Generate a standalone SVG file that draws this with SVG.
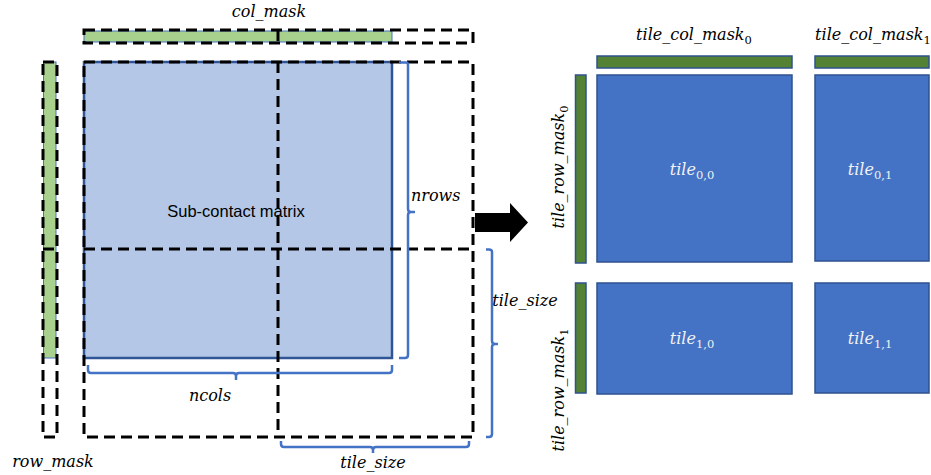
<svg xmlns="http://www.w3.org/2000/svg" width="931" height="475" viewBox="0 0 931 475">
  <style>
    .math { font-family: "DejaVu Serif", "Liberation Serif", serif; font-style: italic; font-size: 16px; fill: #000; }
    .math-w { font-family: "DejaVu Serif", "Liberation Serif", serif; font-style: italic; font-size: 16px; fill: #F2F2F2; }
    .sub { font-size: 11.5px; font-style: normal; }
    .dash { fill: none; stroke: #000; stroke-width: 3; stroke-dasharray: 11 6; }
    .mask-light { fill: #A9D18E; stroke: #4472C4; stroke-width: 1; }
    .brace { fill: none; stroke: #4472C4; stroke-width: 2.5; stroke-linejoin: round; }
    .mask-dark { fill: #548235; stroke: #2F528F; stroke-width: 1.5; }
    .tile { fill: #4472C4; stroke: #2F528F; stroke-width: 1.5; }
    .plain { font-family: "Liberation Sans", Arial, sans-serif; font-size: 16.5px; fill: #000; }
  </style>

  <!-- column mask above the sub-contact matrix -->
  <g id="col-mask">
    <rect class="mask-light" x="84" y="31" width="308" height="11"/>
    <rect class="dash" x="84" y="30" width="389" height="13"/>
    <line class="dash" x1="278" y1="30" x2="278" y2="43"/>
    <text class="math" x="269" y="17" text-anchor="middle">col_mask</text>
  </g>

  <!-- row mask left of the sub-contact matrix -->
  <g id="row-mask">
    <rect class="mask-light" x="43.5" y="62" width="12.5" height="296"/>
    <rect class="dash" x="43" y="62" width="14" height="375"/>
    <line class="dash" x1="43" y1="249" x2="57" y2="249"/>
    <text class="math" x="53" y="467" text-anchor="middle">row_mask</text>
  </g>

  <!-- sub-contact matrix with the dashed tile grid over it -->
  <g id="sub-contact-matrix">
    <rect x="84" y="62" width="308" height="296" fill="#B4C7E7" stroke="#2F5597" stroke-width="2.5"/>
    <text class="plain" x="236" y="217" text-anchor="middle">Sub-contact matrix</text>
  </g>

  <g id="tile-grid">
    <rect class="dash" x="84" y="62" width="389" height="375"/>
    <line class="dash" x1="84" y1="249" x2="473" y2="249"/>
    <line class="dash" x1="278" y1="62" x2="278" y2="437"/>
  </g>

  <!-- dimension braces and labels -->
  <g id="dimension-nrows">
    <path class="brace" d="M399,62.5 H406 Q408,62.5 408,65 V209 Q408,212 411,212 H415 M411,212 Q408,212 408,215 V355 Q408,358 405,358 H399"/>
    <text class="math" x="411" y="201">nrows</text>
  </g>

  <g id="dimension-ncols">
    <path class="brace" d="M88,365 V370 Q88,373 91,373 H233 Q236,373 236,376 V380 M236,376 Q236,373 239,373 H389 Q392,373 392,370 V365"/>
    <text class="math" x="210" y="401" text-anchor="middle">ncols</text>
  </g>

  <g id="dimension-tile-size-rows">
    <path class="brace" d="M486,249.5 H489 Q492,249.5 492,252 V341 Q492,344 495,344 H498 M495,344 Q492,344 492,347 V434 Q492,437 489,437 H486"/>
    <text class="math" x="525" y="306" text-anchor="middle">tile_size</text>
  </g>

  <g id="dimension-tile-size-cols">
    <path class="brace" d="M281,441 V444 Q281,447 284,447 H370 Q373,447 373,450 V453 M373,450 Q373,447 376,447 H466 Q469,447 469,444 V441"/>
    <text class="math" x="373" y="468" text-anchor="middle">tile_size</text>
  </g>

  <!-- tiled result -->
  <g id="tile-col-mask-0">
    <rect class="mask-dark" x="597" y="56" width="195" height="12"/>
    <text class="math" x="694" y="40" text-anchor="middle">tile_col_mask<tspan class="sub" dy="4">0</tspan></text>
  </g>
  <g id="tile-col-mask-1">
    <rect class="mask-dark" x="815" y="56" width="114" height="12"/>
    <text class="math" x="873" y="40" text-anchor="middle">tile_col_mask<tspan class="sub" dy="4">1</tspan></text>
  </g>

  <g id="tile-row-mask-0">
    <rect class="mask-dark" x="575.5" y="75" width="10.5" height="188"/>
    <text class="math" transform="translate(564,167) rotate(-90)" text-anchor="middle">tile_row_mask<tspan class="sub" dy="4">0</tspan></text>
  </g>
  <g id="tile-row-mask-1">
    <rect class="mask-dark" x="575.5" y="283" width="10.5" height="110"/>
    <text class="math" transform="translate(564,390) rotate(-90)" text-anchor="middle">tile_row_mask<tspan class="sub" dy="4">1</tspan></text>
  </g>

  <g id="tile-0-0">
    <rect class="tile" x="597" y="75" width="195" height="187"/>
    <text class="math-w" x="692" y="175" text-anchor="middle">tile<tspan class="sub" dy="4">0,0</tspan></text>
  </g>
  <g id="tile-0-1">
    <rect class="tile" x="815" y="75" width="114" height="186"/>
    <text class="math-w" x="870" y="175" text-anchor="middle">tile<tspan class="sub" dy="4">0,1</tspan></text>
  </g>
  <g id="tile-1-0">
    <rect class="tile" x="597" y="283" width="195" height="111"/>
    <text class="math-w" x="692" y="344" text-anchor="middle">tile<tspan class="sub" dy="4">1,0</tspan></text>
  </g>
  <g id="tile-1-1">
    <rect class="tile" x="815" y="283" width="114" height="110"/>
    <text class="math-w" x="870" y="344" text-anchor="middle">tile<tspan class="sub" dy="4">1,1</tspan></text>
  </g>

  <!-- connector: block arrow from the matrix to its tiles -->
  <g id="connectors">
    <polygon points="475,213 510,213 510,203 528,222.5 510,242 510,232 475,232" fill="#000"/>
  </g>
</svg>
